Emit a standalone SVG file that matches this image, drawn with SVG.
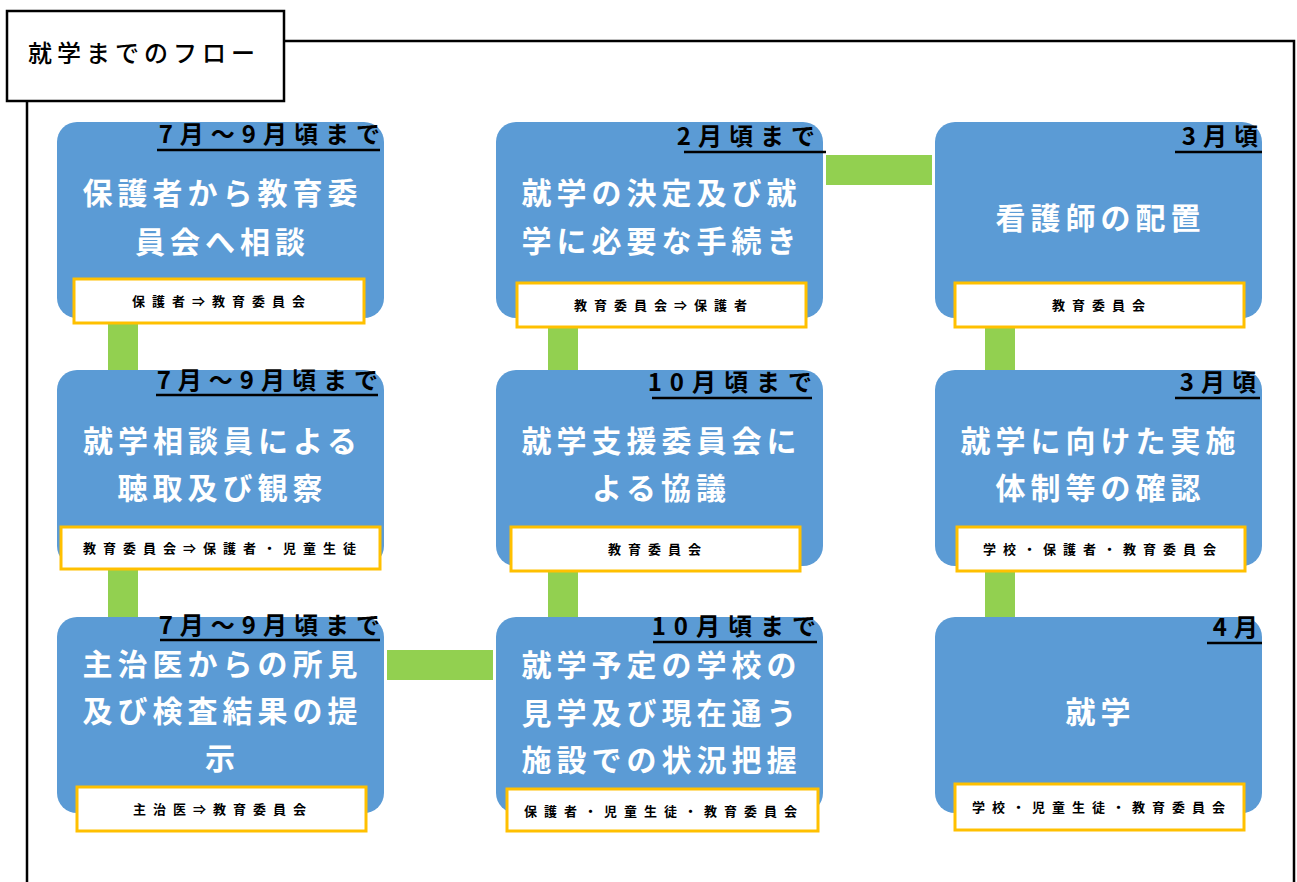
<svg xmlns="http://www.w3.org/2000/svg" width="1297" height="882" viewBox="0 0 1297 882">
<style>
.node{fill:#5B9BD5}
.sub{fill:#FFFFFF;stroke:#FFC000;stroke-width:3}
.conn{fill:#92D050}
.frame{fill:none;stroke:#000;stroke-width:2.5}
.ul{stroke:#000;stroke-width:2.5}
.main{font-family:"Noto Sans CJK JP",sans-serif;font-weight:700;font-size:30px;fill:#FFFFFF;text-anchor:middle;letter-spacing:5px}
.date{font-family:"Noto Sans CJK JP",sans-serif;font-weight:700;font-size:24px;fill:#000;text-anchor:end;letter-spacing:7px}
.who{font-family:"Noto Sans CJK JP",sans-serif;font-weight:700;font-size:13px;fill:#000;text-anchor:middle;letter-spacing:7px}
.title{font-family:"Noto Sans CJK JP",sans-serif;font-weight:500;font-size:24px;fill:#000;letter-spacing:5px}
</style>
<rect width="1297" height="882" fill="#FFFFFF"/>
<g id="frame">
<polyline class="frame" points="27,101 27,882"/>
<polyline class="frame" points="284,41 1294,41 1294,882"/>
<rect x="7" y="11" width="277" height="90" fill="#FFFFFF" stroke="#000" stroke-width="2.5"/>
<text class="title" x="28" y="62">就学までのフロー</text>
</g>
<g id="connectors">
<rect class="conn" x="108" y="323" width="30" height="47"/>
<rect class="conn" x="108" y="569" width="30" height="48"/>
<rect class="conn" x="548" y="327" width="30" height="43"/>
<rect class="conn" x="548" y="571" width="30" height="46"/>
<rect class="conn" x="985" y="327" width="30" height="43"/>
<rect class="conn" x="985" y="571" width="30" height="46"/>
<rect class="conn" x="826" y="155" width="106" height="30"/>
<rect class="conn" x="387" y="650" width="106" height="30"/>
</g>
<g id="n1">
<rect class="node" x="57" y="122" width="327" height="196" rx="20"/>
<line class="ul" x1="157" y1="150" x2="380" y2="150"/>
<text class="date" x="387" y="143">7月～9月頃まで</text>
<text class="main" x="222.5" y="204">保護者から教育委</text>
<text class="main" x="222.5" y="253">員会へ相談</text>
<rect class="sub" x="74" y="279" width="290" height="44"/>
<text class="who" x="222" y="306">保護者⇒教育委員会</text>
</g>
<g id="n2">
<rect class="node" x="496" y="122" width="327" height="196" rx="20"/>
<line class="ul" x1="684" y1="152" x2="826" y2="152"/>
<text class="date" x="822" y="145">2月頃まで</text>
<text class="main" x="661.5" y="204">就学の決定及び就</text>
<text class="main" x="661.5" y="252">学に必要な手続き</text>
<rect class="sub" x="517" y="283" width="289" height="44"/>
<text class="who" x="664" y="310">教育委員会⇒保護者</text>
</g>
<g id="n3">
<rect class="node" x="935" y="122" width="327" height="196" rx="20"/>
<line class="ul" x1="1175" y1="152" x2="1262" y2="152"/>
<text class="date" x="1265" y="145">3月頃</text>
<text class="main" x="1100.5" y="229">看護師の配置</text>
<rect class="sub" x="955" y="283" width="289" height="44"/>
<text class="who" x="1102" y="310">教育委員会</text>
</g>
<g id="n4">
<rect class="node" x="57" y="370" width="327" height="196" rx="20"/>
<line class="ul" x1="156" y1="395" x2="378" y2="395"/>
<text class="date" x="385" y="389">7月～9月頃まで</text>
<text class="main" x="222.5" y="452">就学相談員による</text>
<text class="main" x="222.5" y="499">聴取及び観察</text>
<rect class="sub" x="61" y="527" width="319" height="42"/>
<text class="who" x="223" y="553">教育委員会⇒保護者・児童生徒</text>
</g>
<g id="n5">
<rect class="node" x="496" y="370" width="327" height="196" rx="20"/>
<line class="ul" x1="652" y1="398" x2="812" y2="398"/>
<text class="date" x="820" y="391" style="letter-spacing:8px">10月頃まで</text>
<text class="main" x="661.5" y="452">就学支援委員会に</text>
<text class="main" x="661.5" y="499">よる協議</text>
<rect class="sub" x="511" y="527" width="289" height="44"/>
<text class="who" x="658" y="554">教育委員会</text>
</g>
<g id="n6">
<rect class="node" x="935" y="370" width="327" height="196" rx="20"/>
<line class="ul" x1="1175" y1="398" x2="1260" y2="398"/>
<text class="date" x="1263" y="391">3月頃</text>
<text class="main" x="1100.5" y="452">就学に向けた実施</text>
<text class="main" x="1100.5" y="499">体制等の確認</text>
<rect class="sub" x="957" y="527" width="288" height="44"/>
<text class="who" x="1103" y="554">学校・保護者・教育委員会</text>
</g>
<g id="n7">
<rect class="node" x="57" y="617" width="327" height="196" rx="20"/>
<line class="ul" x1="160" y1="640" x2="380" y2="640"/>
<text class="date" x="387" y="634">7月～9月頃まで</text>
<text class="main" x="222.5" y="675">主治医からの所見</text>
<text class="main" x="222.5" y="722">及び検査結果の提</text>
<text class="main" x="222.5" y="769">示</text>
<rect class="sub" x="77" y="787" width="289" height="44"/>
<text class="who" x="223" y="814">主治医⇒教育委員会</text>
</g>
<g id="n8">
<rect class="node" x="496" y="617" width="327" height="196" rx="20"/>
<line class="ul" x1="653" y1="642" x2="817" y2="642"/>
<text class="date" x="824" y="635" style="letter-spacing:8px">10月頃まで</text>
<text class="main" x="661.5" y="676">就学予定の学校の</text>
<text class="main" x="661.5" y="724">見学及び現在通う</text>
<text class="main" x="661.5" y="771">施設での状況把握</text>
<rect class="sub" x="507" y="789" width="311" height="42"/>
<text class="who" x="664" y="816">保護者・児童生徒・教育委員会</text>
</g>
<g id="n9">
<rect class="node" x="935" y="617" width="327" height="196" rx="20"/>
<line class="ul" x1="1207" y1="643" x2="1262" y2="643"/>
<text class="date" x="1265" y="636">4月</text>
<text class="main" x="1100.5" y="723">就学</text>
<rect class="sub" x="955" y="784" width="289" height="46"/>
<text class="who" x="1102" y="812">学校・児童生徒・教育委員会</text>
</g>
</svg>
